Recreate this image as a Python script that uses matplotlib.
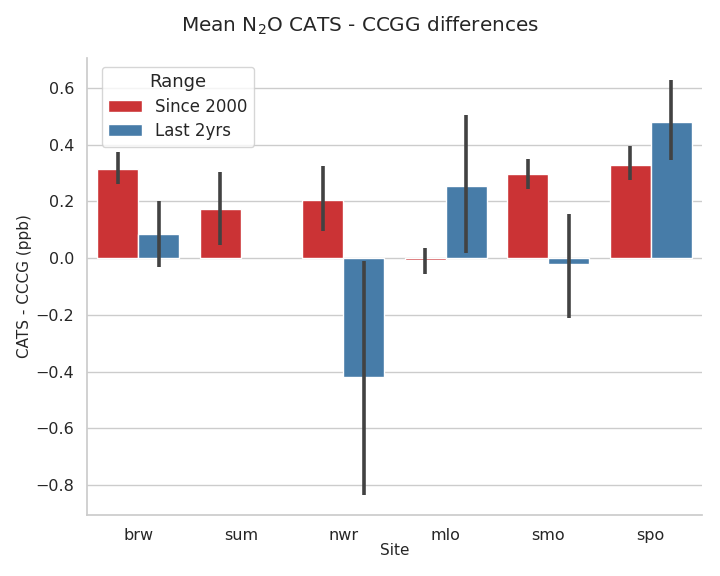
import numpy as np
import matplotlib
matplotlib.use("Agg")
import matplotlib.pyplot as plt
import seaborn as sns

sites = ["brw", "sum", "nwr", "mlo", "smo", "spo"]
ranges = ["Since 2000", "Last 2yrs"]

# mean differences and error bar ends (ppb)
since2000 = [0.316, 0.172, 0.204, -0.005, 0.295, 0.330]
since2000_lo = [0.260, 0.046, 0.095, -0.056, 0.245, 0.277]
since2000_hi = [0.373, 0.303, 0.324, 0.037, 0.348, 0.394]

last2yrs = [0.084, np.nan, -0.420, 0.253, -0.020, 0.481]
last2yrs_lo = [-0.030, np.nan, -0.833, 0.020, -0.212, 0.346]
last2yrs_hi = [0.201, np.nan, -0.010, 0.504, 0.155, 0.629]

sns.set_theme(style="whitegrid")
colors = sns.color_palette("Set1", 2, desat=0.75)

fig = plt.figure(figsize=(7.2, 5.76), dpi=100)
ax = fig.add_axes([0.121, 0.106, 0.854, 0.793])

x = np.arange(len(sites))
w = 0.4
series = [
    (since2000, since2000_lo, since2000_hi, -w / 2),
    (last2yrs, last2yrs_lo, last2yrs_hi, w / 2),
]
for i, (vals, lo, hi, off) in enumerate(series):
    ax.bar(x + off, vals, width=w, color=colors[i], edgecolor="white",
           linewidth=1, label=ranges[i], zorder=2)
    ax.vlines(x + off, lo, hi, color=".26", linewidth=2.6, zorder=3)

ax.set_xticks(x)
ax.set_xticklabels(sites)
ax.set_xlim(-0.5, 5.5)
ax.set_ylim(-0.905, 0.705)
ax.set_yticks([-0.8, -0.6, -0.4, -0.2, 0.0, 0.2, 0.4, 0.6])
ax.tick_params(labelsize=11.5)
ax.set_xlabel("Site", fontsize=11, labelpad=0)
ax.set_ylabel("CATS - CCCG (ppb)", fontsize=11, labelpad=2.5)
ax.grid(axis="x", visible=False)
sns.despine(ax=ax)

ax.legend(title="Range", loc="upper left", bbox_to_anchor=(0.01, 1.0),
          fontsize=12, title_fontsize=13, labelspacing=0.38)
fig.suptitle("Mean N$_2$O CATS - CCGG differences", fontsize=14.4, y=0.975)

fig.savefig("out.png", dpi=100)
